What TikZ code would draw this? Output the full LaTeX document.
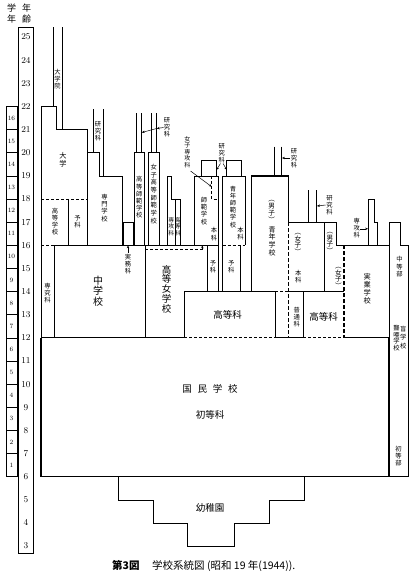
\documentclass[tikz,border=0pt]{standalone}
\usepackage{fontspec}
\newfontfamily\cjk{Noto Sans CJK JP}
\usetikzlibrary{arrows.meta}
\begin{document}
\begin{tikzpicture}[x=1pt,y=-1pt,
  declare function={Y(\a)=37+(25-\a)*23.14;},
  ln/.style={line width=0.6pt},
  thk/.style={line width=1.1pt},
  vthk/.style={line width=1.5pt},
  dsh/.style={dash pattern=on 3pt off 2pt},
  vl/.style={font=\cjk\fontsize{6.3}{7.2}\selectfont, align=center, inner sep=0pt},
  vm/.style={font=\cjk\fontsize{7.2}{8}\selectfont, align=center, inner sep=0pt},
  vb/.style={font=\cjk\fontsize{10}{10.5}\selectfont, align=center, inner sep=0pt},
  hb/.style={font=\cjk\fontsize{9.5}{11}\selectfont, inner sep=0pt},
  arr/.style={-{Stealth[length=3pt,width=2.4pt]}, line width=0.5pt},
  agelab/.style={font=\fontsize{9}{10}\selectfont, inner sep=0pt},
  grlab/.style={font=\fontsize{6.5}{7}\selectfont, inner sep=0pt},
]
\useasboundingbox (0,0) rectangle (415,581);
\fill[white] (0,0) rectangle (415,581);

% headers
\node[font=\cjk\fontsize{9}{10.5}\selectfont, align=center, inner sep=0pt] (hgak) at (11.7,13.5) {学\\年};
\node[font=\cjk\fontsize{9}{10.5}\selectfont, align=center, inner sep=0pt] (hnen) at (26.7,13.5) {年\\齢};

% age column
\draw[ln] (18,27) rectangle (33,553);
\foreach \a in {3,...,25} \node[agelab] (age\a) at (26,{Y(\a)}) {\a};

% grade column
\draw[ln] (6,{Y(22)}) rectangle (17,{Y(6)});
\foreach \a in {7,...,21} \draw[ln] (6,{Y(\a)}) -- (17,{Y(\a)});
\foreach \g in {1,...,16} \node[grlab] (gr\g) at (11.5,{Y(\g+5.5)}) {\g};

% ---- university
\draw[ln] (53,27) -- (53,{Y(22)});
\draw[ln] (62,27) -- (62,{Y(21)});
\node[vl] (daigakuin) at (57.5,79) {大\\学\\院};
\draw[ln] (41,{Y(6)}) -- (41,{Y(22)}) -- (56,{Y(22)}) -- (56,{Y(21)}) -- (87,{Y(21)}) -- (87,{Y(16)});
\node[vm] (daigaku) at (63,160) {大\\学};
\draw[ln,dsh] (41,{Y(18)}) -- (87,{Y(18)});
\draw[ln] (68,{Y(18)}) -- (68,{Y(16)});
\node[vl] (koto) at (55,221.5) {高\\等\\学\\校};
\node[vl] (yoka1) at (77.5,221.5) {予\\科};

% senmon
\draw[ln] (87,{Y(20)}) -- (99,{Y(20)}) -- (99,{Y(19)}) -- (122,{Y(19)}) -- (122,{Y(16)});
\draw[ln] (93,109) -- (93,{Y(20)});
\draw[ln] (103,109) -- (103,{Y(19)});
\node[vl] (ken1) at (98,131) {研\\究\\科};
\node[vl] (senmon) at (104.5,208) {専\\門\\学\\校};

% jitsumu
\draw[ln] (123,{Y(17)}) rectangle (133,{Y(16)});
\node[vl] (jitsumu) at (128,264) {実\\務\\科};
\draw[arr] (jitsumu.north) ++(0,-1) -- (128,{Y(16)});

% koto shihan
\draw[ln] (134,{Y(16)}) -- (134,{Y(20)}) -- (144.3,{Y(20)}) -- (144.3,{Y(16)});
\draw[ln] (136.7,113) -- (136.7,{Y(20)});
\draw[ln] (141.7,113) -- (141.7,{Y(20)});
\node[vl] (koshi) at (139.2,197.5) {高\\等\\師\\範\\学\\校};
\draw[ln] (148.3,{Y(16)}) -- (148.3,{Y(20)}) -- (159.3,{Y(20)}) -- (159.3,{Y(16)});
\draw[ln] (151,113) -- (151,{Y(20)});
\draw[ln] (156.7,113) -- (156.7,{Y(20)});
\node[vl, font=\cjk\fontsize{6.3}{7.7}\selectfont] (joshikoshi) at (153.8,194) {女\\子\\高\\等\\師\\範\\学\\校};
\node[vl] (ken2) at (167,127.5) {研\\究\\科};
\coordinate (k2a) at (156.7,128.5);
\coordinate (k2b) at (141.7,132.5);
\draw[arr] (ken2.west) -- (k2a);
\draw[arr] (k2a) -- (k2b);

% senko / koto (girls)
\draw[ln] (167.3,{Y(16)}) -- (167.3,{Y(19)}) -- (171.7,{Y(19)}) -- (171.7,{Y(18)}) -- (180,{Y(18)}) -- (180,{Y(16)});
\draw[ln] (175,{Y(18)}) -- (175,{Y(16)});
\node[vl, font=\cjk\fontsize{5.8}{6.8}\selectfont] (senko1) at (171.2,226.7) {専\\攻\\科};
\node[vl, font=\cjk\fontsize{5.8}{6.8}\selectfont] (kotoka1) at (177.8,226.7) {高\\等\\科};

% shihan
\draw[ln] (194.3,{Y(16)}) -- (194.3,{Y(19)}) -- (218.3,{Y(19)}) -- (218.3,{Y(14)});
\draw[ln,dsh] (211.7,{Y(19)}) -- (211.7,{Y(18)}) -- (218.3,{Y(18)});
\draw[ln] (201.7,160) rectangle (216,{Y(19)});
\draw[ln] (207.3,{Y(16)}) -- (207.3,{Y(14)});
\node[vl] (shihan) at (204,211) {師\\範\\学\\校};
\node[vl] (honka1) at (214,234) {本\\科};
\node[vl, font=\cjk\fontsize{6}{6.6}\selectfont] (joshisenko) at (187.3,152) {女\\子\\専\\攻\\科};
\draw[arr] (190.5,171) -- (211.7,186.7);
\node[vl] (yoka2) at (213,267) {予\\科};

% seinen shihan
\draw[ln] (222.7,{Y(14)}) -- (222.7,{Y(19)}) -- (245,{Y(19)}) -- (245,{Y(16)});
\draw[ln,dsh] (222.7,{Y(16)}) -- (245,{Y(16)});
\draw[ln] (240,{Y(16)}) -- (240,{Y(14)});
\draw[ln] (226.7,160) rectangle (241.7,{Y(19)});
\node[vl] (seishi) at (233,206.7) {青\\年\\師\\範\\学\\校};
\node[vl] (honka2) at (240.5,233.5) {本\\科};
\node[vl] (yoka3) at (231.3,267) {予\\科};
\node[vl] (ken3) at (221.7,153) {研\\究\\科};
\draw[arr] (220.5,163.5) -- (216.3,170);
\draw[arr] (223,163.5) -- (226.9,170);

% girls high school dashed link
\draw[ln,dsh] (145,{Y(16)+4}) -- (202.3,{Y(16)+4});
\draw[arr] (202.3,{Y(16)+4.5}) -- (202.3,{Y(16)});

% line at age 16
\draw[ln,dsh] (41,{Y(16)}) -- (54,{Y(16)});
\draw[ln] (54,{Y(16)}) -- (218.3,{Y(16)});

% middle school etc
\draw[ln] (54,{Y(16)}) -- (54,{Y(12)});
\node[vl] (senkyu) at (47.5,293) {専\\究\\科};
\node[vb] (chugaku) at (98,291) {中\\学\\校};
\draw[ln] (145,{Y(16)}) -- (145,{Y(12)});
\node[vb, font=\cjk\fontsize{9.5}{9.8}\selectfont] (kojo) at (166.7,289) {高\\等\\女\\学\\校};

% kotoka (left)
\draw[ln] (184.3,{Y(12)}) -- (184.3,{Y(14)}) -- (275,{Y(14)}) -- (275,{Y(12)});
\node[hb] (kotoka2) at (227.7,315) {高等科};

% seinen gakko
\draw[vthk] (251.7,{Y(14)}) -- (251.7,{Y(19)}) -- (288.3,{Y(19)}) -- (288.3,{Y(17)});
\draw[ln] (288.3,{Y(17)}) -- (336.7,{Y(17)}) -- (336.7,{Y(16)}) -- (390,{Y(16)});
\draw[vthk, dash pattern=on 3.5pt off 2.5pt] (288.3,{Y(17)}) -- (288.3,{Y(12)});
\draw[ln] (274,146.7) -- (274,{Y(19)});
\draw[ln] (281.7,146.7) -- (281.7,{Y(19)});
\node[vl] (ken4) at (294,158) {研\\究\\科};
\draw[arr] (ken4.west) ++(-0.5,0) -- (281.9,158);
\node[vl, font=\cjk\fontsize{6.6}{5.2}\selectfont] (danshi1) at (271.7,211.5) {︵\\男\\子\\︶};
\node[vl, font=\cjk\fontsize{7}{7.6}\selectfont] (seinen) at (272,241) {青\\年\\学\\校};

\draw[ln,dsh] (275,{Y(14)}) -- (288.3,{Y(14)});
\draw[ln] (288.3,{Y(14)}) -- (344,{Y(14)});
\draw[ln] (303.3,{Y(14)}) -- (303.3,{Y(12)});
\draw[ln] (324,{Y(17)}) -- (324,{Y(14)});
\node[vl, font=\cjk\fontsize{6.6}{5.2}\selectfont] (joshi1) at (298,244) {︵\\女\\子\\︶};
\node[vl] (honka3) at (298.3,276.7) {本\\科};
\node[vl] (futsu) at (296.7,317) {普\\通\\科};
\draw[ln] (308.3,190) -- (308.3,{Y(17)});
\draw[ln] (316.7,190) -- (316.7,{Y(17)});
\node[vl] (ken5) at (329.5,205) {研\\究\\科};
\draw[arr] (ken5.west) ++(-0.5,0) -- (316.9,206);
\node[hb] (kotoka3) at (323.5,316.7) {高等科};
\node[vl, font=\cjk\fontsize{6.6}{5.2}\selectfont] (danshi2) at (330,243) {︵\\男\\子\\︶};
\node[vl, font=\cjk\fontsize{6.6}{5.2}\selectfont] (joshi2) at (338.3,278) {︵\\女\\子\\︶};
\draw[vthk, dash pattern=on 3.5pt off 2.5pt] (344,{Y(16)}) -- (344,{Y(12)});

% jitsugyo
\draw[ln] (368.3,{Y(16)}) -- (368.3,{Y(18)}) -- (374,{Y(18)}) -- (374,{Y(17)}) -- (377.3,{Y(17)}) -- (377.3,{Y(16)});
\node[vl] (senko2) at (356.7,228.3) {専\\攻\\科};
\draw[arr] (360,228.8) -- (368.1,228.8);
\node[vm] (jitsugyo) at (367.3,289) {実\\業\\学\\校};

% special schools column
\draw[ln] (389,{Y(6)}) -- (389,{Y(17)}) -- (400,{Y(17)}) -- (400,{Y(16)}) -- (408.3,{Y(16)}) -- (408.3,{Y(6)}) -- (389,{Y(6)});
\node[vl] (chuto) at (399.5,266.7) {中\\等\\部};
\node[vl, font=\cjk\fontsize{6.3}{8.5}\selectfont] (mogaku) at (403.3,337.5) {盲\\学\\校};
\node[vl, font=\cjk\fontsize{6.3}{6.6}\selectfont] (rogaku) at (396.5,338) {聾\\唖\\学\\校};
\node[vl] (shoto) at (398.5,456) {初\\等\\部};

% kokumin gakko
\draw[thk] (41,{Y(12)}) -- (184.3,{Y(12)});
\draw[thk,dsh] (184.3,{Y(12)}) -- (275,{Y(12)});
\draw[thk] (275,{Y(12)}) -- (303.3,{Y(12)});
\draw[thk,dsh] (303.3,{Y(12)}) -- (344,{Y(12)});
\draw[thk] (344,{Y(12)}) -- (389,{Y(12)});
\draw[thk] (41,{Y(12)}) -- (41,{Y(6)}) -- (389,{Y(6)}) -- (389,{Y(12)});
\node[hb] (kokumin) at (210,389) {国\hspace{0.6em}民\hspace{0.6em}学\hspace{0.6em}校};
\node[hb] (shotoka) at (210,415) {初等科};

% kindergarten
\draw[ln] (118.3,{Y(6)}) -- (118.3,{Y(5)}) -- (153.3,{Y(5)}) -- (153.3,{Y(4)}) -- (187.3,{Y(4)}) -- (187.3,{Y(3)}) -- (234,{Y(3)}) -- (234,{Y(4)}) -- (269.3,{Y(4)}) -- (269.3,{Y(5)}) -- (304,{Y(5)}) -- (304,{Y(6)});
\node[hb] (yochien) at (210,508) {幼稚園};

% caption
\node[font=\cjk\fontsize{10.5}{12}\selectfont, anchor=west, inner sep=0pt] (caption) at (112,566) {\textbf{第3図}\hspace{1.2em}学校系統図 (昭和 19 年(1944)).};
\end{tikzpicture}
\end{document}
